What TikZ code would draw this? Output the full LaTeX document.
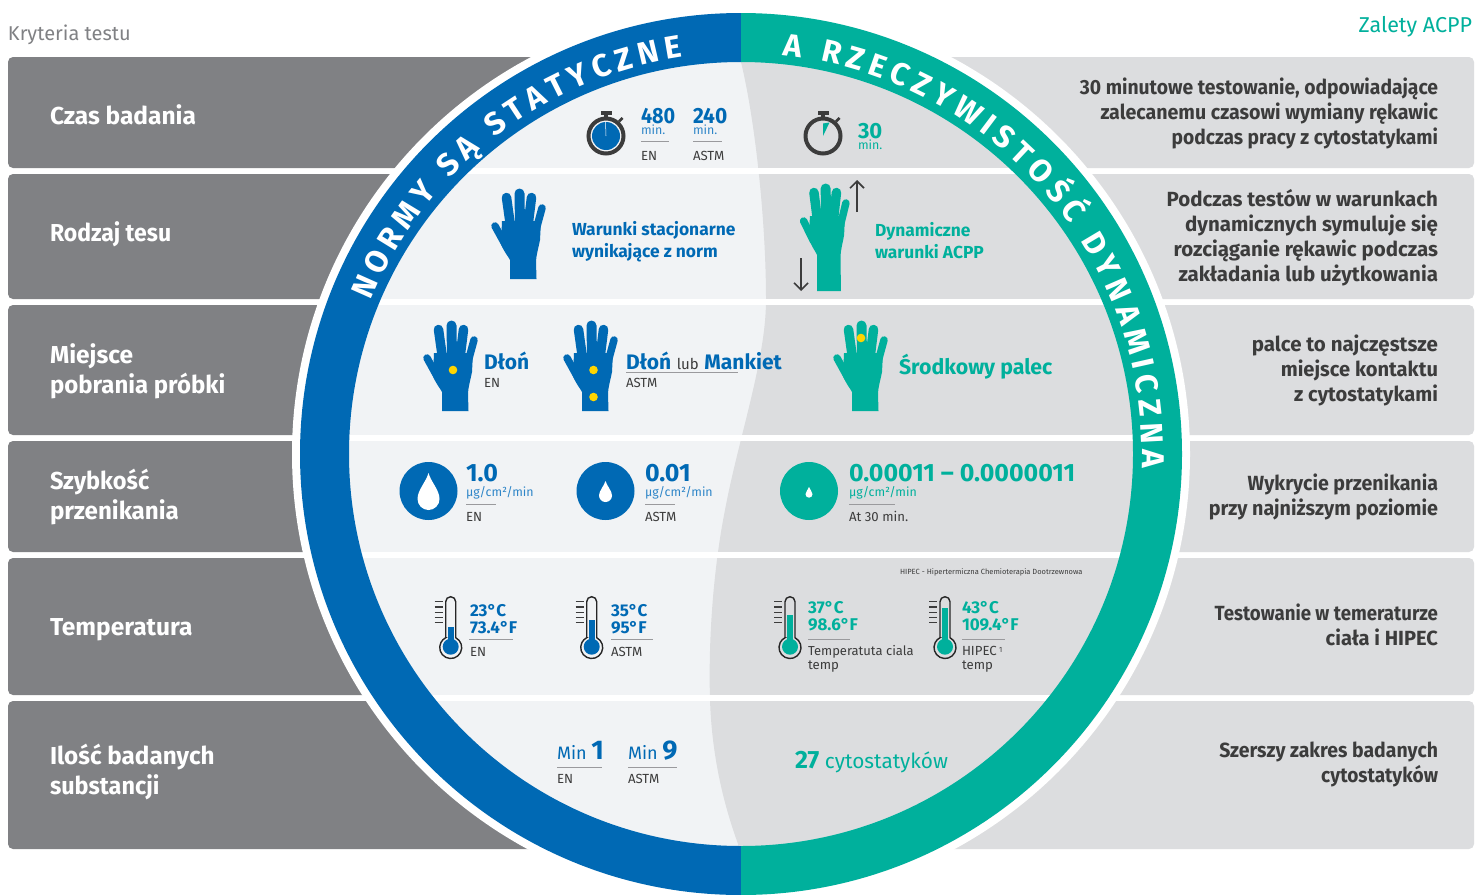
\documentclass[tikz,border=0pt]{standalone}
\usepackage{fontspec}
\usepackage{graphicx}
\setmainfont{Fira Sans}
\usetikzlibrary{decorations.text,arrows.meta}
\definecolor{cblue}{HTML}{0069B4}
\definecolor{cblue2}{HTML}{2F86C8}
\definecolor{cgreen}{HTML}{00B09C}
\definecolor{clight}{HTML}{F1F3F5}
\definecolor{cmid}{HTML}{DCDDDF}
\definecolor{cdark}{HTML}{808184}
\definecolor{cink}{HTML}{3C3C3C}
\definecolor{cyel}{HTML}{FFD500}
\newcount\tn
\newcommand\TL[4]{\global\advance\tn by 1 \node[txt,#1,anchor=base west] (t\the\tn) at (#2,#3) {#4};}
\newcommand\TR[4]{\global\advance\tn by 1 \node[txt,#1,anchor=base east] (t\the\tn) at (#2,#3) {#4};}
\newcommand\fs[1]{\fontsize{#1}{#1}\selectfont}
\newcommand\sx[2]{\scalebox{#1}[1]{#2}}
% glove: x, y, colour, bottom, xscale
\newcommand\glove[5]{\begin{scope}[shift={(#1,#2)},x=#5pt]
 \fill[#3] (11,33) -- (50,33) -- (49,52) .. controls (47,62) and (45,68) .. (45,74) -- (45.5,#4) -- (19,#4) -- (19,72) .. controls (17,68) and (13,64) .. (10,56) -- cycle;
 \draw[#3,line width=7.5pt,line cap=round,line join=round] (4,38) -- (15,58);
 \draw[#3,line width=9.5pt,line cap=round] (19.5,38) -- (15.5,9.5);
 \draw[#3,line width=10pt,line cap=round] (29,38) -- (28.5,5.5);
 \draw[#3,line width=9.5pt,line cap=round] (37,38) -- (40.5,9.5);
 \draw[#3,line width=7.5pt,line cap=round] (45,42) -- (51,20);
\end{scope}}
% thermometer: bulb x, bulb y, colour, level y
\newcommand\thermo[4]{\begin{scope}[shift={(#1,#2)}]
 \draw[black!85,line width=1.4pt] (-5,-9) -- (-5,-45) arc[start angle=180,end angle=0,radius=5pt] -- (5,-9) arc[start angle=63,end angle=-243,radius=11pt] -- cycle;
 \fill[#3] (0,0) circle[radius=8pt];
 \fill[#3] (-3,-5) rectangle (3,#4);
 \foreach \yy in {-45,-39.6,-34.4,-29.4,-24}{\draw[cink,line width=1.3pt] (-16,\yy) -- (-8,\yy);}
\end{scope}}
\newcommand\hrulex[3]{\draw[cdark!80,line width=.8pt] (#1,#3) -- (#2,#3);}
\begin{document}
\begin{tikzpicture}[x=1pt,y=-1pt,
 txt/.style={inner sep=0pt,outer sep=0pt,align=left},
 lab/.style={font=\bfseries\fs{24.5},text=white},
 rt/.style={font=\bfseries\fs{20.5},text=cink},
 sm/.style={font=\fs{13.2},text=cink},
 unitb/.style={font=\fs{12.4},text=cblue2},
 unitg/.style={font=\fs{12.4},text=cgreen},
 band/.style={rounded corners=5pt}]
\useasboundingbox (0,0) rectangle (1482,894);
\clip (0,0) rectangle (1482,894);
\fill[white] (0,0) rectangle (1482,894);
% strips
\foreach \a/\b in {57/168,174/299,305/435,441/552,558/695,701/849}{
 \fill[cdark,band] (8,\a) rectangle (760,\b);
 \fill[cmid,band] (720,\a) rectangle (1474,\b);
}
\fill[white] (741,454) circle[radius=449pt];
% interior
\begin{scope}
 \clip (741,454) circle[radius=395pt];
 \fill[clight] (300,50) rectangle (1180,860);
 \fill[cmid] (741,50) -- (741,62) .. controls (755,120) and (766,220) .. (766,300) .. controls (766,360) and (738,440) .. (725,510) .. controls (715,560) and (708,630) .. (710,700) .. controls (712,760) and (725,810) .. (741,852) -- (741,860) -- (1180,860) -- (1180,50) -- cycle;
 \foreach \a/\b in {168/174,299/305,435/441,552/558,695/701}{\fill[white] (300,\a) rectangle (1180,\b);}
\end{scope}
% ring
\fill[cblue] (741,13) arc[start angle=90,end angle=270,radius=441pt] -- (741,846) arc[start angle=270,end angle=90,radius=392pt] -- cycle;
\fill[cgreen] (741,13) arc[start angle=90,end angle=-90,radius=441pt] -- (741,846) arc[start angle=-90,end angle=90,radius=392pt] -- cycle;
\path[decorate,decoration={text along path,text align={fit to path},text={|\bfseries\fs{31.5}\color{white}|NORMY SĄ STATYCZNE}}]
 (741,454) ++(157.5:401pt) arc[start angle=157.5,end angle=98.4,radius=401pt];
\path[decorate,decoration={text along path,text align={fit to path},text={|\bfseries\fs{31.5}\color{white}|A RZECZYWISTOŚĆ DYNAMICZNA}}]
 (741,454) ++(84:401pt) arc[start angle=84,end angle=-2,radius=401pt];
% header
\TL{font=\fs{20},text=cdark}{8}{40}{Kryteria testu}
\TR{font=\fs{21.5},text=cgreen}{1472}{32}{Zalety ACPP}
% left labels
\TL{lab}{50}{124}{Czas badania}
\TL{lab}{50}{241}{\sx{.94}{Rodzaj tesu}}
\TL{lab}{50}{363}{Miejsce}
\TL{lab}{50}{393}{\sx{.978}{pobrania próbki}}
\TL{lab}{50}{489}{\sx{.96}{Szybkość}}
\TL{lab}{50}{519}{\sx{.985}{przenikania}}
\TL{lab}{50}{635}{Temperatura}
\TL{lab}{50}{764}{\sx{.99}{Ilość badanych}}
\TL{lab}{50}{794}{\sx{.955}{substancji}}
% right text
\TR{rt}{1438}{94}{\sx{.942}{30 minutowe testowanie, odpowiadające}}
\TR{rt}{1438}{119}{\sx{.957}{zalecanemu czasowi wymiany rękawic}}
\TR{rt}{1438}{144}{\sx{.937}{podczas pracy z cytostatykami}}
\TR{rt}{1438}{206}{Podczas testów w warunkach}
\TR{rt}{1438}{231}{dynamicznych symuluje się}
\TR{rt}{1438}{256}{rozciąganie rękawic podczas}
\TR{rt}{1438}{281}{zakładania lub użytkowania}
\TR{rt}{1438}{351}{palce to najczęstsze}
\TR{rt}{1438}{376}{\sx{.98}{miejsce kontaktu}}
\TR{rt}{1438}{401}{\sx{.98}{z cytostatykami}}
\TR{rt}{1438}{490}{\sx{.955}{Wykrycie przenikania}}
\TR{rt}{1438}{515}{\sx{.962}{przy najniższym poziomie}}
\TR{rt}{1438}{620}{\sx{.91}{Testowanie w temeraturze}}
\TR{rt}{1438}{645}{\sx{.98}{ciała i HIPEC}}
\TR{rt}{1438}{757}{\sx{.948}{Szerszy zakres badanych}}
\TR{rt}{1438}{782}{\sx{.93}{cytostatyków}}
% row 1 stopwatches
\foreach \sx in {606,823}{
 \fill[cink] (\sx-5.5,111) rectangle (\sx+5.5,114.5);
 \fill[cink] (\sx-2,114) rectangle (\sx+2,118);
 \draw[cink,line width=2.8pt] (\sx+13,121.5) -- (\sx+16.5,118);
 \draw[cink,line width=4pt] (\sx,136) circle[radius=17.5pt];
}
\fill[cblue] (606,136) circle[radius=14pt];
\draw[white,line width=.5pt] (606,136) -- (605.5,122);
\fill[cgreen] (823,136) -- (823,123.5) -- (829.5,122.5) -- cycle;
\TL{font=\bfseries\fs{22},text=cblue}{641}{123}{\sx{.9}{480}}
\TL{font=\bfseries\fs{22},text=cblue}{693}{123}{\sx{.95}{240}}
\TL{unitb}{641}{134}{min.}
\TL{unitb}{693}{134}{min.}
\hrulex{641}{669}{141}
\hrulex{693}{722}{141}
\TL{sm}{641}{160}{EN}
\TL{sm}{693}{160}{ASTM}
\TL{font=\bfseries\fs{22},text=cgreen}{858}{138}{30}
\TL{unitg}{858}{149}{min.}
% row 2
\glove{491}{188}{cblue}{91}{1}
\glove{800}{183}{cgreen}{108}{.9}
\TL{font=\bfseries\fs{17.4},text=cblue}{572}{235}{Warunki stacjonarne}
\TL{font=\bfseries\fs{17.4},text=cblue}{572}{257}{wynikające z norm}
\TL{font=\bfseries\fs{17.4},text=cgreen}{875}{236}{Dynamiczne}
\TL{font=\bfseries\fs{17.4},text=cgreen}{875}{258}{warunki ACPP}
\coordinate (upa) at (857,212); \coordinate (upb) at (857,180);
\coordinate (dna) at (801,258); \coordinate (dnb) at (801,291);
\draw[cink,line width=1.6pt,-{Straight Barb[length=7pt,width=14pt]}] (upa) -- (upb);
\draw[cink,line width=1.6pt,-{Straight Barb[length=7pt,width=14pt]}] (dna) -- (dnb);
% row 3
\glove{423}{320}{cblue}{91}{1}
\glove{563}{320}{cblue}{91}{1}
\glove{833}{320}{cgreen}{91}{1}
\fill[cyel] (453,370) circle[radius=4.3pt];
\fill[cyel] (593.5,370) circle[radius=4.3pt];
\fill[cyel] (593.5,397) circle[radius=4.3pt];
\fill[cyel] (861,338) circle[radius=4.3pt];
\TL{font=\bfseries\fs{21},text=cblue}{484}{369}{Dłoń}
\TL{sm}{484}{387}{EN}
\TL{font=\fs{21},text=cblue}{626}{369}{\textbf{Dłoń} {\fs{15}\color{cink}lub} \textbf{Mankiet}}
\hrulex{626}{738}{372.5}
\TL{sm}{626}{387}{ASTM}
\TL{font=\bfseries\fs{21.3},text=cgreen}{899}{374}{Środkowy palec}
% row 4
\fill[cblue] (428.5,491) circle[radius=29pt];
\fill[cblue] (605.5,491) circle[radius=29pt];
\fill[cgreen] (809,491) circle[radius=29pt];
\fill[white] (428.5,473) .. controls (431,482) and (439.5,490) .. (439.5,499) arc[start angle=0,end angle=-180,radius=11pt] .. controls (417.5,490) and (426,482) .. (428.5,473) -- cycle;
\fill[white] (605.5,481) .. controls (607,486) and (612,491) .. (612,495.5) arc[start angle=0,end angle=-180,radius=6.5pt] .. controls (599,491) and (604,486) .. (605.5,481) -- cycle;
\fill[white] (809,487) .. controls (810,490) and (812.5,492) .. (812.5,494.2) arc[start angle=0,end angle=-180,radius=3.5pt] .. controls (805.5,492) and (808,490) .. (809,487) -- cycle;
\TL{font=\bfseries\fs{25},text=cblue}{466}{481}{1.0}
\TL{unitb}{466}{496}{µg/cm²/min}
\hrulex{466}{496}{504}
\TL{sm}{466}{521}{EN}
\TL{font=\bfseries\fs{25},text=cblue}{645}{481}{0.01}
\TL{unitb}{645}{496}{µg/cm²/min}
\hrulex{645}{675}{504}
\TL{sm}{645}{521}{ASTM}
\TL{font=\bfseries\fs{25},text=cgreen}{849}{481}{0.00011 – 0.0000011}
\TL{unitg}{849}{496}{µg/cm²/min}
\hrulex{849}{895}{504}
\TL{sm}{849}{521}{At 30 min.}
% row 5
\thermo{450.7}{646.7}{cblue}{-20}
\thermo{591.7}{646.7}{cblue}{-26.7}
\thermo{790}{646.7}{cgreen}{-31.7}
\thermo{945}{646.7}{cgreen}{-39}
\TL{font=\fs{7.5},text=cink}{900}{574}{HIPEC - Hipertermiczna Chemioterapia Dootrzewnowa}
\TL{font=\bfseries\fs{17},text=cblue}{470}{616}{23°C}
\TL{font=\bfseries\fs{17},text=cblue}{470}{633}{73.4°F}
\hrulex{469}{513}{639}
\TL{sm}{470}{656}{EN}
\TL{font=\bfseries\fs{17},text=cblue}{611}{616}{35°C}
\TL{font=\bfseries\fs{17},text=cblue}{611}{633}{95°F}
\hrulex{611}{653}{639}
\TL{sm}{611}{656}{ASTM}
\TL{font=\bfseries\fs{17},text=cgreen}{808}{613}{37°C}
\TL{font=\bfseries\fs{17},text=cgreen}{808}{630}{98.6°F}
\hrulex{808}{850}{639}
\TL{font=\fs{13},text=cink}{808}{655}{Temperatuta ciala}
\TL{sm}{808}{669}{temp}
\TL{font=\bfseries\fs{17},text=cgreen}{962}{613}{43°C}
\TL{font=\bfseries\fs{17},text=cgreen}{962}{630}{109.4°F}
\hrulex{962}{1005}{639}
\TL{sm}{962}{655}{HIPEC\,\raisebox{3pt}{\fs{7.5}1}}
\TL{sm}{962}{669}{temp}
% row 6
\TL{font=\fs{18},text=cblue}{557}{759}{Min \textbf{\fs{27}1}}
\hrulex{557}{602}{767.5}
\TL{sm}{557}{783}{EN}
\TL{font=\fs{18},text=cblue}{628}{759}{Min \textbf{\fs{27}9}}
\hrulex{628}{677}{767.5}
\TL{sm}{628}{783}{ASTM}
\TL{font=\fs{20.8},text=cgreen}{795}{768}{\textbf{\fs{25}27} cytostatyków}
\end{tikzpicture}
\end{document}
